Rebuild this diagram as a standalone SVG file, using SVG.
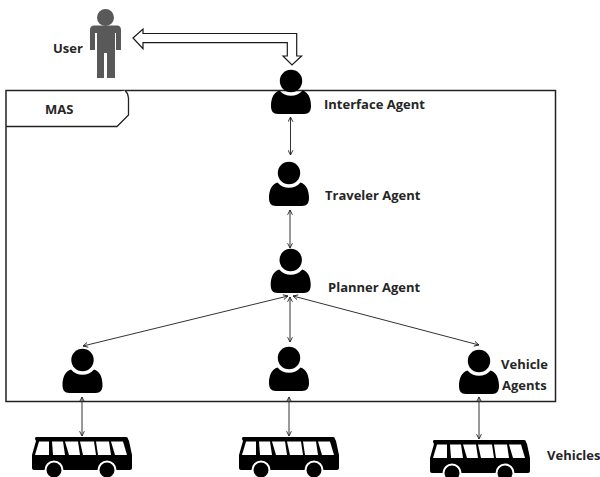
<svg xmlns="http://www.w3.org/2000/svg" width="600" height="477" viewBox="0 0 600 477">
<style>
text{font-family:"Open Sans","Liberation Sans",sans-serif;font-weight:700;font-size:13px;fill:#262626}
.c{fill:none;stroke:#333;stroke-width:1;marker-start:url(#a);marker-end:url(#a)}
.h{fill:#fff;stroke:#1a1a1a;stroke-width:1.2;stroke-linejoin:miter}
</style>
<defs>
<marker id="a" viewBox="0 0 10 10" refX="9" refY="5" markerWidth="6" markerHeight="6" markerUnits="userSpaceOnUse" orient="auto-start-reverse"><path d="M1 1L9 5L1 9" fill="none" stroke="#222" stroke-width="1.5"/></marker>
<symbol id="agent" overflow="visible" width="1" height="1">
<circle cx="0" cy="0" r="11.2" fill="#000"/>
<path d="M-11.5 9.5A15 15 0 0 0 11.5 9.5C17 11 20 17 20 25C20 30 18 33 13 33L-13 33C-18 33 -20 30 -20 25C-20 17 -17 11 -11.500 9.5Z" fill="#000"/>
</symbol>
<symbol id="bus" overflow="visible" width="1" height="1">
<path fill="#000" d="M4 0H94Q96 0 96 2L97 4L100 18V31Q100 33 98 33H2Q0 33 0 31V18L4 4L3 2Q3 0 4 0Z"/>
<g fill="#fff"><path d="M7 4.500H17V18H3Z"/><path d="M20 4.500H31L33 18H21Z"/><path d="M33 4.500H46L48 18H37Z"/><path d="M48 4.500H62L64 18H51Z"/><path d="M64 4.500H77L79 18H66Z"/><path d="M79 4.500H91L95 18H83Z"/></g>
<circle cx="22" cy="33" r="8.500" fill="#000" stroke="#fff" stroke-width="2"/>
<circle cx="75" cy="33" r="8.500" fill="#000" stroke="#fff" stroke-width="2"/>
</symbol>
</defs>
<rect width="600" height="477" fill="#fff"/>
<g id="user" fill="#595959">
<circle cx="105.500" cy="17.500" r="8.500"/>
<path d="M94 25.500H117Q121 25.500 121 30V50H116V33H115V78H107V53H104V78H97V33H95V50H90V30Q90 25.500 94 25.500Z"/>
<text x="53" y="53">User</text>
</g>
<g id="mas">
<rect x="6" y="90.500" width="549.500" height="311" fill="none" stroke="#222" stroke-width="1.500"/>
<path d="M6 126.500H117L128.500 115V98Q128 93 125 90.500" fill="#fff" stroke="#222" stroke-width="1.300"/>
<text x="45" y="114">MAS</text>
</g>
<g id="connectors">
<line class="c" x1="290.500" y1="117" x2="290.500" y2="155"/>
<line class="c" x1="290" y1="210" x2="290" y2="248"/>
<line class="c" x1="288" y1="296" x2="83" y2="346"/>
<line class="c" x1="290" y1="297" x2="290" y2="342"/>
<line class="c" x1="293" y1="296" x2="479" y2="345"/>
<line class="c" x1="82" y1="397" x2="82" y2="436"/>
<line class="c" x1="289" y1="397" x2="289" y2="436"/>
<line class="c" x1="479" y1="397" x2="479" y2="439"/>
<path class="h" d="M133 38L143 29V33.500H296.700V56H301.600L292 65L283 56H287.300V42.700H143V48.700Z"/>
</g>
<g id="interface-agent"><use href="#agent" x="291" y="81"/><text x="324" y="109">Interface Agent</text></g>
<g id="traveler-agent"><use href="#agent" x="289" y="173"/><text x="325" y="200">Traveler Agent</text></g>
<g id="planner-agent"><use href="#agent" x="290.700" y="260"/><text x="328" y="292">Planner Agent</text></g>
<g id="vehicle-agent-1"><use href="#agent" x="82.500" y="360"/></g>
<g id="vehicle-agent-2"><use href="#agent" x="289" y="358"/></g>
<g id="vehicle-agent-3"><use href="#agent" x="479" y="361"/><text x="501" y="369">Vehicle</text><text x="502" y="390">Agents</text></g>
<g id="vehicle-1"><use href="#bus" x="32" y="437"/></g>
<g id="vehicle-2"><use href="#bus" x="239" y="437"/></g>
<g id="vehicle-3"><use href="#bus" x="430" y="440"/><text x="547" y="460">Vehicles</text></g>
</svg>
